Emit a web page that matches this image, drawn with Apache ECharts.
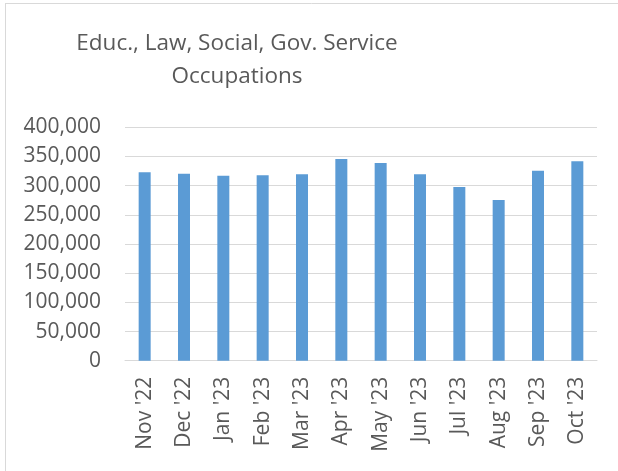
<!DOCTYPE html>
<html>
<head>
<meta charset="utf-8">
<script src="https://cdn.jsdelivr.net/npm/echarts@6/dist/echarts.min.js"></script>
<style>
html,body{margin:0;padding:0;background:#fff;}
#chart{width:618px;height:471px;}
</style>
</head>
<body>
<div id="chart"></div>
<script>
const titleText = "Educ., Law, Social, Gov. Service\nOccupations";
const categories = ["Nov '22","Dec '22","Jan '23","Feb '23","Mar '23","Apr '23","May '23","Jun '23","Jul '23","Aug '23","Sep '23","Oct '23"];
const values = [323000, 320500, 317000, 317700, 319400, 345700, 338800, 319400, 297700, 275400, 325600, 341700];
const yMin = 0, yMax = 400000, yStep = 50000;

const chart = echarts.init(document.getElementById('chart'), null, {renderer:'canvas'});
const font = "'Open Sans', 'Liberation Sans', sans-serif";
chart.setOption({
  animation:false,
  backgroundColor:'#ffffff',
  title:{
    text:titleText,
    left:232, top:22,
    textAlign:'center',
    textStyle:{fontFamily:font, fontSize:22.5, fontWeight:'normal', color:'#595959', lineHeight:33}
  },
  graphic:[
    {type:'line', shape:{x1:5.5,y1:3,x2:5.5,y2:471}, style:{stroke:'#d9d9d9', lineWidth:1}},
    {type:'line', shape:{x1:5,y1:3.5,x2:618,y2:3.5}, style:{stroke:'#d9d9d9', lineWidth:1}}
  ],
  grid:{left:125, right:21, top:127.3, bottom:110.3, containLabel:false},
  xAxis:{
    type:'category', data:categories,
    axisLine:{show:true, lineStyle:{color:'#d9d9d9', width:1}},
    axisTick:{show:false},
    axisLabel:{rotate:90, margin:16, fontFamily:font, fontSize:21, color:'#595959', interval:0}
  },
  yAxis:{
    type:'value', min:yMin, max:yMax, interval:yStep,
    axisLine:{show:false}, axisTick:{show:false},
    splitLine:{lineStyle:{color:'#d9d9d9', width:1}},
    axisLabel:{margin:24, fontFamily:font, fontSize:21, color:'#595959',
      formatter:v=>v.toLocaleString('en-US')}
  },
  series:[{
    type:'bar', data:values, barWidth:12,
    itemStyle:{color:'#5b9bd5'}
  }]
});
</script>
</body>
</html>
